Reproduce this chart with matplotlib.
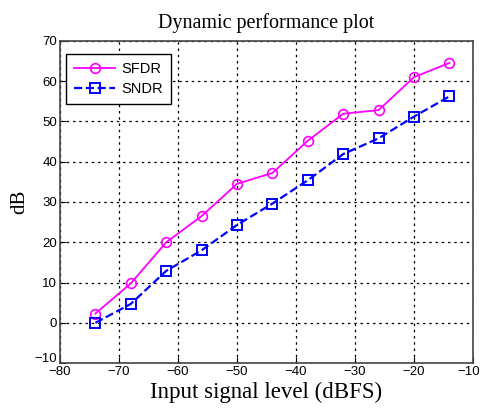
import matplotlib
matplotlib.use("Agg")
import matplotlib.pyplot as plt
import matplotlib.transforms as mtransforms

# input signal level (dBFS)
input_level = [-74, -68, -62, -56, -50, -44, -38, -32, -26, -20, -14]
sfdr = [2.3, 9.8, 20.0, 26.5, 34.5, 37.2, 45.2, 51.9, 52.8, 61.0, 64.5]
sndr = [0.0, 4.7, 12.9, 18.0, 24.3, 29.6, 35.4, 41.9, 45.8, 51.2, 56.2]

xticks = [-80, -70, -60, -50, -40, -30, -20, -10]
yticks = [-10, 0, 10, 20, 30, 40, 50, 60, 70]

fig = plt.figure(figsize=(4.82, 4.08), dpi=100)
ax = fig.add_axes([0.1245, 0.110, 0.857, 0.79])

ax.plot(input_level, sfdr, "-o", color="#ff00ff", linewidth=1.3,
        markersize=7, markerfacecolor="none", markeredgewidth=1.2, label="SFDR")
ax.plot(input_level, sndr, "--s", color="#0000ff", linewidth=1.6,
        markersize=7, markerfacecolor="none", markeredgewidth=1.4, label="SNDR")

ax.set_xlim(-80, -10)
ax.set_ylim(-10, 70)
ax.set_xticks(xticks)
ax.set_yticks(yticks)
ax.grid(True, color="black", linestyle=(0, (2, 3)), linewidth=0.9)
ax.tick_params(direction="in", length=4, labelsize=9.5, pad=2)
for lab in ax.get_xticklabels() + ax.get_yticklabels():
    lab.set_family("Liberation Sans")
for s in ax.spines.values():
    s.set_color("#444444")
    s.set_linewidth(1.2)

# nudge the corner labels apart like the original (-10 sits above -80)
ylab0 = ax.get_yticklabels()[0]
ylab0.set_transform(ylab0.get_transform()
                    + mtransforms.ScaledTranslation(0, 4 / 72, fig.dpi_scale_trans))
xlab_last = ax.get_xticklabels()[-1]
xlab_last.set_transform(xlab_last.get_transform()
                        + mtransforms.ScaledTranslation(-3 / 72, 0, fig.dpi_scale_trans))

ax.set_title("Dynamic performance plot", family="Liberation Serif", fontsize=14.5, pad=9)
ax.set_xlabel("Input signal level (dBFS)", family="Liberation Serif", fontsize=16.5, labelpad=3)
ax.set_ylabel("dB", family="Liberation Serif", fontsize=15, labelpad=4)

leg = ax.legend(loc="upper left", bbox_to_anchor=(0.015, 0.96),
                prop={"family": "Liberation Sans", "size": 10.5},
                fancybox=False, edgecolor="black", framealpha=1, handlelength=2.8,
                handletextpad=0.4, borderpad=0.55, borderaxespad=0.0, labelspacing=0.45)
leg.get_frame().set_linewidth(1.0)

fig.savefig("out.png", dpi=100)
